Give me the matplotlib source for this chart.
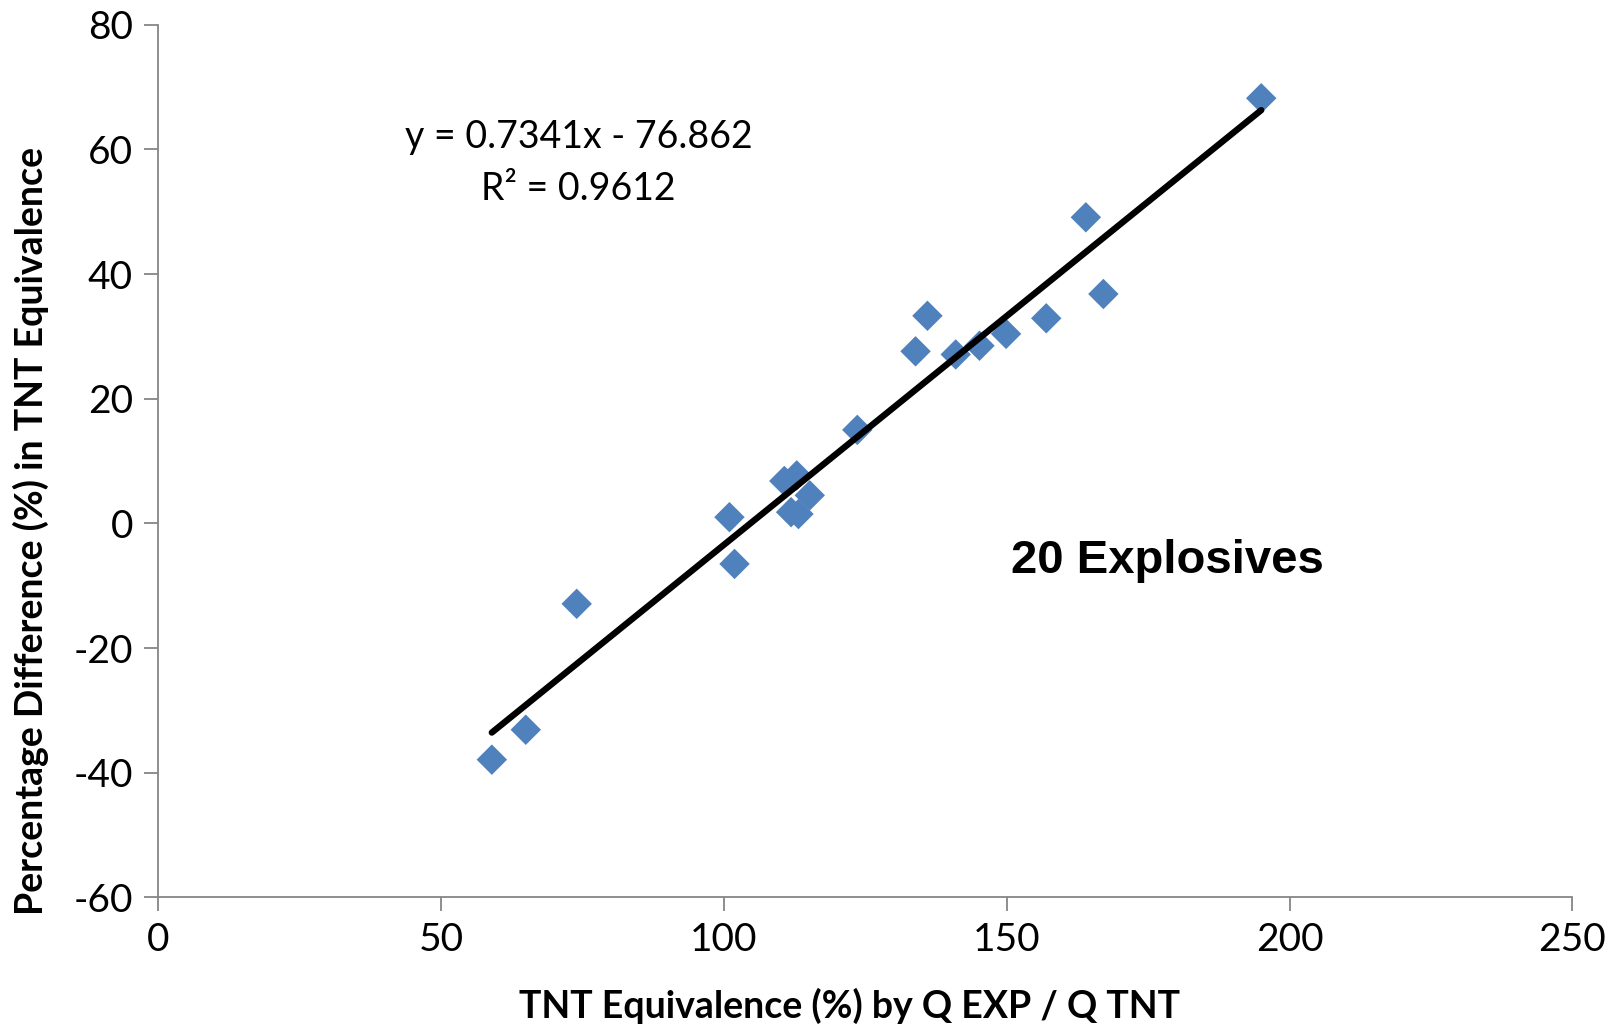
import matplotlib
matplotlib.use("Agg")
import matplotlib.pyplot as plt
import numpy as np

# TNT equivalence (%) by Q EXP / Q TNT
tnt_equiv = [59.0, 65.0, 74.0, 101.0, 101.9, 110.7, 112.9, 111.9, 113.2, 115.2,
             123.6, 133.9, 136.0, 141.0, 145.2, 149.9, 157.0, 164.0, 167.1, 195.0]
# percentage difference (%) in TNT equivalence
pct_diff = [-37.9, -33.1, -12.9, 1.0, -6.5, 6.8, 7.7, 1.8, 1.5, 4.5,
            15.0, 27.6, 33.3, 27.1, 28.5, 30.4, 32.9, 49.1, 36.8, 68.2]

slope = 0.7341
intercept = -76.862
r_squared = 0.9612

plt.rcParams['font.family'] = ['Lato', 'DejaVu Sans']
plt.rcParams['axes.unicode_minus'] = False

fig = plt.figure(figsize=(16.21, 10.28), dpi=100)
ax = fig.add_axes([0.0975, 0.127, 0.8725, 0.849])

ax.scatter(tnt_equiv, pct_diff, marker='D', s=15.5**2, color='#4F81BD',
           edgecolors='none', zorder=2)

xfit = np.array([min(tnt_equiv), max(tnt_equiv)])
ax.plot(xfit, slope * xfit + intercept, color='black', lw=4.6,
        solid_capstyle='round', zorder=3)

ax.set_xlim(0, 250)
ax.set_ylim(-60, 80)
ax.set_xticks(range(0, 251, 50))
ax.set_yticks(range(-60, 81, 20))

for s in ['top', 'right']:
    ax.spines[s].set_visible(False)
for s in ['left', 'bottom']:
    ax.spines[s].set_color('#868686')
    ax.spines[s].set_linewidth(1.3)
ax.tick_params(direction='out', length=10, width=1.3, color='#868686',
               labelsize=28, pad=8)

ax.set_xlabel('TNT Equivalence (%) by Q EXP / Q TNT', fontsize=27,
              fontweight='bold')
ax.set_ylabel('Percentage Difference (%) in TNT Equivalence', fontsize=27,
              fontweight='bold')
# excel-style offset label positions
ax.xaxis.set_label_coords(0.489, -0.104)
ax.yaxis.set_label_coords(-0.077, 0.42)

ax.text(74.3, 62.0, f'y = {slope}x - {abs(intercept)}', fontsize=27,
        ha='center', va='center')
ax.text(74.3, 53.7, f'R² = {r_squared}', fontsize=27, ha='center', va='center')
ax.text(178.4, -6.0, '20 Explosives', fontsize=34, fontweight='bold',
        ha='center', va='center', family=['Liberation Sans', 'DejaVu Sans'])

fig.savefig('out.png', dpi=100)
